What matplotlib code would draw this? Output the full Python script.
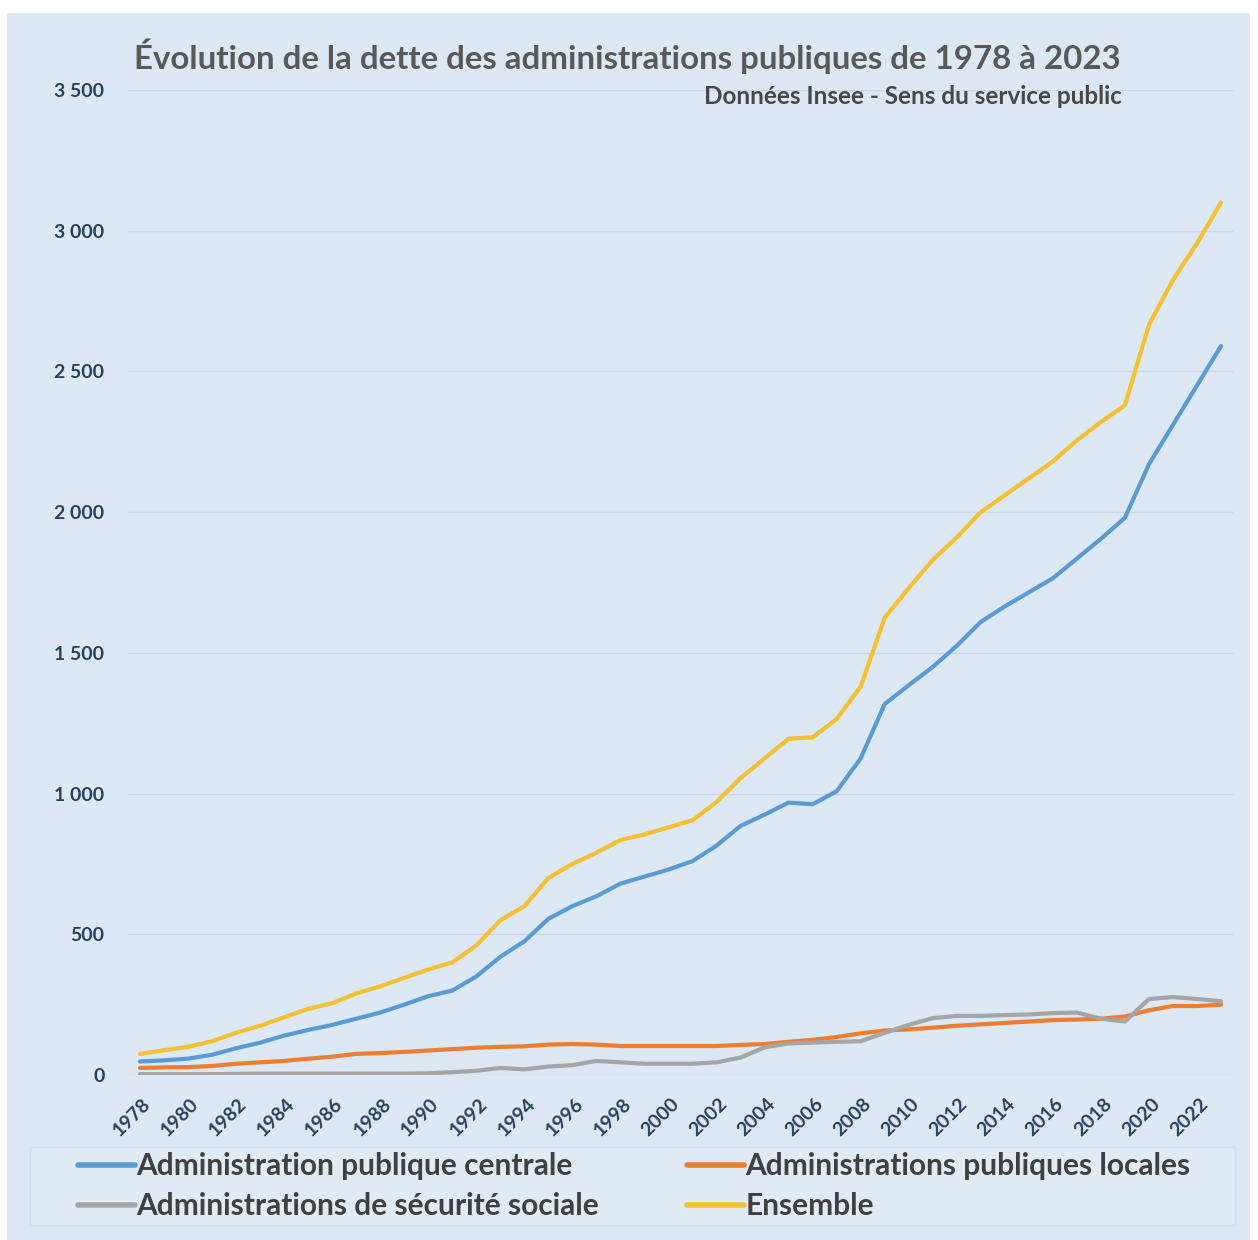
import matplotlib
matplotlib.use("Agg")
import matplotlib.pyplot as plt
import matplotlib.transforms as mtransforms
from matplotlib.patches import Rectangle
from matplotlib.ticker import FuncFormatter

plt.rcParams["font.family"] = ["Lato", "DejaVu Sans"]

# ---------- données (milliards d'euros) ----------
years = list(range(1978, 2024))

centrale = [48, 52, 58, 72, 95, 115, 140, 160, 178, 200,
            222, 250, 280, 300, 350, 420, 475, 555, 600, 635,
            680, 705, 730, 760, 815, 885, 925, 968, 962, 1008,
            1125, 1318, 1385, 1450, 1525, 1610, 1665, 1715, 1765, 1835,
            1905, 1980, 2170, 2310, 2450, 2590]

locales = [25, 27, 28, 32, 40, 45, 50, 58, 65, 75,
           78, 82, 87, 92, 97, 100, 102, 108, 110, 108,
           103, 103, 103, 103, 103, 107, 110, 118, 125, 135,
           148, 158, 162, 168, 175, 180, 185, 190, 195, 197,
           200, 208, 230, 245, 245, 250]

secu = [3, 3, 3, 3, 4, 5, 5, 5, 5, 5,
        5, 5, 6, 10, 15, 25, 20, 30, 35, 50,
        45, 40, 40, 40, 45, 62, 98, 112, 115, 118,
        120, 150, 178, 202, 210, 210, 213, 215, 220, 222,
        200, 190, 270, 277, 270, 262]

ensemble = [75, 88, 100, 120, 150, 175, 205, 235, 255, 290,
            315, 345, 375, 400, 460, 550, 600, 700, 750, 790,
            835, 855, 880, 905, 970, 1055, 1125, 1195, 1200, 1265,
            1380, 1625, 1730, 1830, 1910, 2000, 2060, 2120, 2180, 2255,
            2320, 2380, 2665, 2825, 2955, 3100]

labels = ["Administration publique centrale",
          "Administrations publiques locales",
          "Administrations de sécurité sociale",
          "Ensemble"]
colors = ["#5b9bd5", "#ed7d31", "#a5a5a5", "#f5c032"]

W, H = 1258, 1240
fig = plt.figure(figsize=(W / 100, H / 100), dpi=100, facecolor="white")

# fond bleu clair + cadre de la légende (derrière les axes)
fig.patches.append(Rectangle((7 / W, 0), 1243 / W, 1227 / H, transform=fig.transFigure,
                             facecolor="#dce8f4", edgecolor="none", zorder=-2))
fig.patches.append(Rectangle((30 / W, 15 / H), 1205 / W, 78 / H, transform=fig.transFigure,
                             facecolor="#e1ebf6", edgecolor="#d3e0ee", lw=1, zorder=-1))

ax = fig.add_axes([128 / W, 165 / H, 1105 / W, 985 / H])
ax.set_facecolor("none")

x = list(range(len(years)))
series = [centrale, locales, secu, ensemble]
lines = []
for vals, c, lab in zip(series, colors, labels):
    ln, = ax.plot(x, vals, color=c, lw=3.0, label=lab, solid_capstyle="round",
                  solid_joinstyle="round")
    lines.append(ln)

ax.set_xlim(-0.5, len(years) - 0.5)
ax.set_ylim(0, 3500)
ax.set_yticks(range(0, 3501, 500))
ax.yaxis.set_major_formatter(FuncFormatter(lambda v, p: f"{int(v):,}".replace(",", " ")))
ax.set_xticks(x[::2])
ax.set_xticklabels([str(y) for y in years[::2]])

tick_col = "#26405f"
ax.tick_params(axis="y", length=0, pad=17, labelsize=14, labelcolor=tick_col)
ax.tick_params(axis="x", length=0, pad=19, labelsize=14, labelcolor=tick_col)
shift = mtransforms.ScaledTranslation(8 / 100, 0, fig.dpi_scale_trans)
for t in ax.get_yticklabels():
    t.set_fontweight("bold")
for t in ax.get_xticklabels():
    t.set_fontweight("bold")
    t.set_rotation(45)
    t.set_ha("right")
    t.set_va("center")
    t.set_rotation_mode("anchor")
    t.set_transform(t.get_transform() + shift)

ax.grid(axis="y", color="#c8d6e6", lw=1)
ax.set_axisbelow(True)
for s in ax.spines.values():
    s.set_visible(False)

fig.text(627 / W, 1 - 56 / H, "Évolution de la dette des administrations publiques de 1978 à 2023",
         ha="center", va="center", fontsize=23.8, fontweight="bold", color="#595959")
fig.text(1122 / W, 1 - 96 / H, "Données Insee - Sens du service public",
         ha="right", va="center", fontsize=17.5, fontweight="bold", color="#474747")

order = [0, 2, 1, 3]
leg = fig.legend([lines[i] for i in order], [labels[i] for i in order],
                 loc="center left", bbox_to_anchor=(78 / W, 54 / H), ncol=2,
                 frameon=False, fontsize=21.5, handlelength=1.9, handletextpad=0.05,
                 columnspacing=2.95, labelspacing=0.4, borderpad=0, borderaxespad=0)
for t in leg.get_texts():
    t.set_color("#404040")
    t.set_fontweight("bold")
for h in leg.legend_handles:
    h.set_linewidth(4)

fig.savefig("out.png", dpi=100, facecolor="white")
